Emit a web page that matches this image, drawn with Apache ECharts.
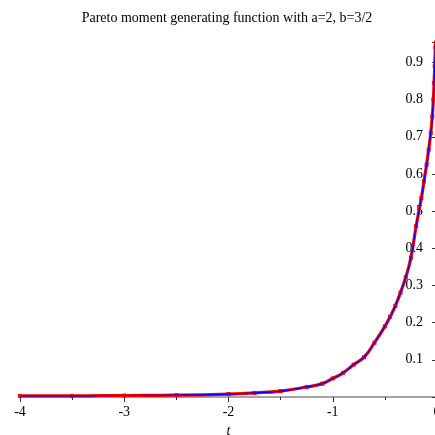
<!DOCTYPE html>
<html>
<head>
<meta charset="utf-8">
<script src="https://cdn.jsdelivr.net/npm/echarts@6/dist/echarts.min.js"></script>
<style>
    html, body { margin: 0; padding: 0; background: #fff; }
    #chart { width: 435px; height: 435px; }
</style>
</head>
<body>
<div id="chart"></div>
<script>
// values
const tValues = [-4, -3.5, -3, -2.5, -2, -1.75, -1.5, -1.25, -1.1, -1, -0.9, -0.8, -0.7, -0.6, -0.5,
    -0.45, -0.4, -0.35, -0.3, -0.25, -0.2, -0.15, -0.125, -0.1, -0.08, -0.06, -0.045, -0.035,
    -0.028, -0.022, -0.016, -0.012]
const mValues = [0.003, 0.003, 0.004, 0.005, 0.008, 0.011, 0.016, 0.027, 0.036, 0.05, 0.065, 0.087, 0.107, 0.146, 0.19,
    0.216, 0.245, 0.281, 0.322, 0.375, 0.46, 0.535, 0.58, 0.625, 0.665, 0.71, 0.755, 0.8,
    0.845, 0.89, 0.94, 0.97]
const xTicks = [-4, -3, -2, -1, 0]
const yTicks = [0.1, 0.2, 0.3, 0.4, 0.5, 0.6, 0.7, 0.8, 0.9]

const points = tValues.map((t, i) => [t, mValues[i]])

const myChart = echarts.init(document.getElementById('chart'))
const serif = 'Liberation Serif'

const option = {
    animation: false,
    title: {
        text: 'Pareto moment generating function with a=2, b=3/2',
        left: 222,
        top: 6,
        textAlign: 'center',
        textStyle: { fontFamily: serif, fontSize: 14, fontWeight: 'normal', color: '#000' }
    },
    grid: {
        left: 20,
        right: -2,
        top: 42,
        bottom: 38,
        containLabel: false,
        outerBoundsMode: 'none'
    },
    xAxis: {
        type: 'value',
        min: -4,
        max: 0,
        interval: 1,
        name: 't',
        nameLocation: 'middle',
        nameGap: 24,
        nameTextStyle: { fontFamily: serif, fontSize: 14, fontStyle: 'italic', color: '#000' },
        axisLine: { onZero: false, lineStyle: { color: '#888', width: 1.5 } },
        axisTick: { length: 5, lineStyle: { color: '#333' } },
        minorTick: { show: true, splitNumber: 2, length: 3, lineStyle: { color: '#333' } },
        splitLine: { show: false },
        axisLabel: {
            margin: 8,
            fontFamily: serif,
            fontSize: 14,
            color: '#000',
            formatter: v => xTicks.includes(v) ? String(v) : ''
        }
    },
    yAxis: {
        type: 'value',
        position: 'right',
        min: 0,
        max: 0.955,
        interval: 0.1,
        axisLine: { show: true, onZero: false, lineStyle: { color: '#888', width: 1.5 } },
        axisTick: { inside: true, length: 5, lineStyle: { color: '#333' } },
        minorTick: { show: true, splitNumber: 2, length: 2, lineStyle: { color: '#666' } },
        splitLine: { show: false },
        axisLabel: {
            inside: true,
            margin: 14,
            fontFamily: serif,
            fontSize: 14,
            color: '#000',
            showMinLabel: false,
            showMaxLabel: false,
            formatter: v => {
                const r = Math.round(v * 10) / 10
                return yTicks.includes(r) && Math.abs(r - v) < 1e-6 ? r.toFixed(1) : ''
            }
        }
    },
    series: [
        {
            type: 'line',
            data: points,
            showSymbol: true,
            symbol: 'rect',
            symbolSize: 4,
            itemStyle: { color: '#ff0000' },
            lineStyle: { color: '#ff0000', width: 3.2 },
            smooth: true,
            z: 2
        },
        {
            type: 'line',
            data: points,
            showSymbol: false,
            lineStyle: { color: '#0000ff', width: 1.2 },
            smooth: true,
            z: 3
        }
    ]
}

myChart.setOption(option)
</script>
</body>
</html>
